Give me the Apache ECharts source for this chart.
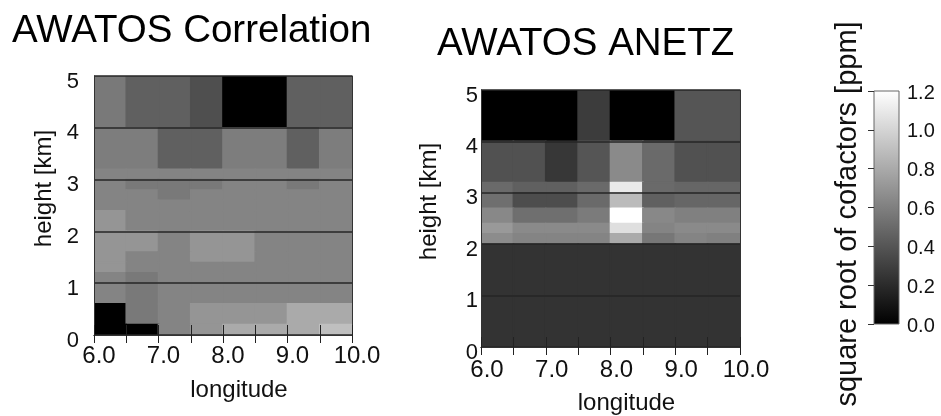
<!DOCTYPE html>
<html><head><meta charset="utf-8">
<script src="https://cdn.jsdelivr.net/npm/echarts@6/dist/echarts.min.js"></script>
<style>html,body{margin:0;padding:0;background:#fff}#c{width:941px;height:416px}</style>
</head><body><div id="c"></div>
<script>
// ---- data ----
const lonEdges = [6.0, 6.5, 7.0, 7.5, 8.0, 8.5, 9.0, 9.5, 10.0];
const panelTitles = ['AWATOS Correlation', 'AWATOS ANETZ'];
const colorbarTitle = 'square root of cofactors [ppm]';
const colorRange = [0, 1.2];

// AWATOS Correlation: row edges (km, top to bottom) and values per 0.5° column
const corrRowEdges = [5.0, 4.0, 3.2, 3.0, 2.8, 2.6, 2.4, 2.0, 1.6, 1.4, 1.2, 1.0, 0.6, 0.2, 0.0];
const corrValues = [
  [0.57, 0.45, 0.45, 0.37, 0.00, 0.00, 0.45, 0.45],
  [0.59, 0.59, 0.45, 0.45, 0.59, 0.59, 0.45, 0.59],
  [0.62, 0.62, 0.62, 0.62, 0.62, 0.62, 0.62, 0.62],
  [0.62, 0.57, 0.57, 0.57, 0.62, 0.62, 0.57, 0.62],
  [0.62, 0.62, 0.57, 0.62, 0.62, 0.62, 0.62, 0.62],
  [0.62, 0.62, 0.62, 0.62, 0.62, 0.62, 0.62, 0.62],
  [0.70, 0.62, 0.62, 0.62, 0.62, 0.62, 0.62, 0.62],
  [0.70, 0.70, 0.62, 0.70, 0.70, 0.62, 0.62, 0.62],
  [0.70, 0.62, 0.62, 0.70, 0.70, 0.62, 0.62, 0.62],
  [0.70, 0.62, 0.62, 0.62, 0.62, 0.62, 0.62, 0.62],
  [0.62, 0.57, 0.62, 0.62, 0.62, 0.62, 0.62, 0.62],
  [0.62, 0.57, 0.62, 0.62, 0.62, 0.62, 0.62, 0.62],
  [0.00, 0.57, 0.62, 0.70, 0.70, 0.70, 0.80, 0.80],
  [0.00, 0.00, 0.62, 0.70, 0.80, 0.80, 0.80, 0.90]
];

// AWATOS ANETZ
const anetzRowEdges = [5.0, 4.0, 3.2, 3.0, 2.7, 2.4, 2.2, 2.0, 0.0];
const anetzValues = [
  [0.00, 0.00, 0.00, 0.28, 0.00, 0.00, 0.40, 0.40],
  [0.38, 0.38, 0.26, 0.40, 0.65, 0.50, 0.38, 0.38],
  [0.50, 0.45, 0.45, 0.50, 1.10, 0.50, 0.48, 0.48],
  [0.52, 0.36, 0.36, 0.50, 0.88, 0.45, 0.48, 0.48],
  [0.64, 0.52, 0.52, 0.58, 1.20, 0.64, 0.60, 0.60],
  [0.72, 0.65, 0.65, 0.65, 1.05, 0.62, 0.65, 0.65],
  [0.66, 0.62, 0.62, 0.62, 0.80, 0.56, 0.62, 0.60],
  [0.24, 0.24, 0.24, 0.24, 0.24, 0.24, 0.24, 0.24]
];

// ---- build cells ----
function buildCells(rowEdges, values) {
  const out = [];
  for (let i = 0; i < values.length; i++) {
    for (let j = 0; j < values[i].length; j++) {
      out.push([lonEdges[j], lonEdges[j + 1], rowEdges[i + 1], rowEdges[i], values[i][j]]);
    }
  }
  return out;
}
const corrCells = buildCells(corrRowEdges, corrValues);
const anetzCells = buildCells(anetzRowEdges, anetzValues);

function renderCell(params, api) {
  const p0 = api.coord([api.value(0), api.value(3)]);
  const p1 = api.coord([api.value(1), api.value(2)]);
  const c = api.visual('color');
  return {
    type: 'rect',
    shape: { x: p0[0], y: p0[1], width: p1[0] - p0[0], height: p1[1] - p0[1] },
    style: { fill: c, stroke: c, lineWidth: 1.6 }
  };
}
function renderBar(params, api) {
  const p0 = api.coord([api.value(0), api.value(3)]);
  const p1 = api.coord([api.value(1), api.value(2)]);
  return {
    type: 'rect',
    shape: { x: p0[0], y: p0[1], width: p1[0] - p0[0], height: p1[1] - p0[1] },
    style: {
      fill: { type: 'linear', x: 0, y: 1, x2: 0, y2: 0,
        colorStops: [{ offset: 0, color: '#000' }, { offset: 1, color: '#fff' }] },
      stroke: '#666', lineWidth: 1
    }
  };
}

const FONT = '"Liberation Sans", Arial, Helvetica, sans-serif';
const INK = '#111';

function xBottom(grid, labelMargin, labelPadLeft, nameGap) {
  return {
    gridIndex: grid, type: 'value', min: 6, max: 10, interval: 1, position: 'bottom', z: 5,
    axisLine: { show: true, lineStyle: { color: '#333', width: 1 } },
    axisTick: { show: true, inside: true, length: 10, lineStyle: { color: '#222' } },
    minorTick: { show: true, splitNumber: 2, length: 10, lineStyle: { color: '#222' } },
    splitLine: { show: false },
    axisLabel: { show: true, margin: labelMargin, fontSize: 24, fontFamily: FONT, color: INK,
      padding: [0, 0, 0, labelPadLeft], formatter: v => v.toFixed(1) },
    name: 'longitude', nameLocation: 'middle', nameGap: nameGap,
    nameTextStyle: { fontSize: 24, fontFamily: FONT, color: INK, padding: [0, 0, 0, 32] }
  };
}
function xTop(grid) {
  return {
    gridIndex: grid, type: 'value', min: 6, max: 10, interval: 1, position: 'top', z: 5,
    axisLine: { show: true, lineStyle: { color: '#333', width: 1 } },
    axisTick: { show: true, inside: true, length: 8, lineStyle: { color: '#222' } },
    minorTick: { show: true, splitNumber: 2, length: 8, lineStyle: { color: '#222' } },
    splitLine: { show: false }, axisLabel: { show: false }
  };
}
function yLeft(grid, labelMargin, nameGap) {
  return {
    gridIndex: grid, type: 'value', min: 0, max: 5, interval: 1, position: 'left', z: 5,
    axisLine: { show: true, lineStyle: { color: '#333', width: 1 } },
    axisTick: { show: false },
    splitLine: { show: true, lineStyle: { color: '#262626', width: 1.5 } },
    axisLabel: { show: true, margin: labelMargin, fontSize: 22, fontFamily: FONT, color: INK,
      verticalAlign: 'top', lineHeight: 11 },
    name: 'height [km]', nameLocation: 'middle', nameGap: nameGap,
    nameTextStyle: { fontSize: 24, fontFamily: FONT, color: INK, padding: [0, 0, 0, 34] }
  };
}
function yRight(grid) {
  return {
    gridIndex: grid, type: 'value', min: 0, max: 5, interval: 1, position: 'right', z: 5,
    axisLine: { show: true, lineStyle: { color: '#333', width: 1 } },
    axisTick: { show: false }, splitLine: { show: false }, axisLabel: { show: false }
  };
}

const chart = echarts.init(document.getElementById('c'), null, { renderer: 'canvas' });
chart.setOption({
  backgroundColor: '#fff',
  animation: false,
  title: [
    { text: panelTitles[0], left: 12, top: 12, padding: 0,
      textStyle: { fontSize: 38.5, fontWeight: 'normal', fontFamily: FONT, color: '#000' } },
    { text: panelTitles[1], left: 437, top: 25, padding: 0,
      textStyle: { fontSize: 38.5, fontWeight: 'normal', fontFamily: FONT, color: '#000' } }
  ],
  grid: [
    { left: 94, top: 76, width: 258, height: 259, outerBoundsMode: 'none' },
    { left: 481, top: 90, width: 259, height: 257, outerBoundsMode: 'none' },
    { left: 874, top: 91, width: 25, height: 233, outerBoundsMode: 'none' }
  ],
  xAxis: [
    xBottom(0, 9, 10, 43), xTop(0),
    xBottom(1, 11, 12, 44), xTop(1),
    { gridIndex: 2, type: 'value', min: 0, max: 1, show: false }
  ],
  yAxis: [
    yLeft(0, 15, 38), yRight(0),
    yLeft(1, 3, 40), yRight(1),
    { gridIndex: 2, type: 'value', min: colorRange[0], max: colorRange[1], interval: 0.2, position: 'right', z: 5,
      axisLine: { show: false }, splitLine: { show: false },
      axisTick: { show: true, inside: true, length: 6, lineStyle: { color: '#333' } },
      axisLabel: { show: true, margin: 8, fontSize: 20, fontFamily: FONT, color: INK,
        verticalAlign: 'top', lineHeight: 4, formatter: v => v.toFixed(1) } }
  ],
  visualMap: {
    type: 'continuous', show: false, min: colorRange[0], max: colorRange[1], dimension: 4,
    seriesIndex: [0, 1], inRange: { color: ['#000000', '#ffffff'] }
  },
  series: [
    { type: 'custom', xAxisIndex: 0, yAxisIndex: 0, renderItem: renderCell, clip: true,
      encode: { x: [0, 1], y: [2, 3] }, data: corrCells },
    { type: 'custom', xAxisIndex: 2, yAxisIndex: 2, renderItem: renderCell, clip: true,
      encode: { x: [0, 1], y: [2, 3] }, data: anetzCells },
    { type: 'custom', xAxisIndex: 4, yAxisIndex: 4, renderItem: renderBar, z: 3,
      encode: { x: [0, 1], y: [2, 3] }, data: [[0, 1, colorRange[0], colorRange[1]]] }
  ],
  graphic: [
    { type: 'text', x: 848, y: 214, rotation: Math.PI / 2,
      style: { text: colorbarTitle, font: '29px ' + FONT, fill: INK, align: 'center', verticalAlign: 'middle' } }
  ]
});
</script></body></html>
